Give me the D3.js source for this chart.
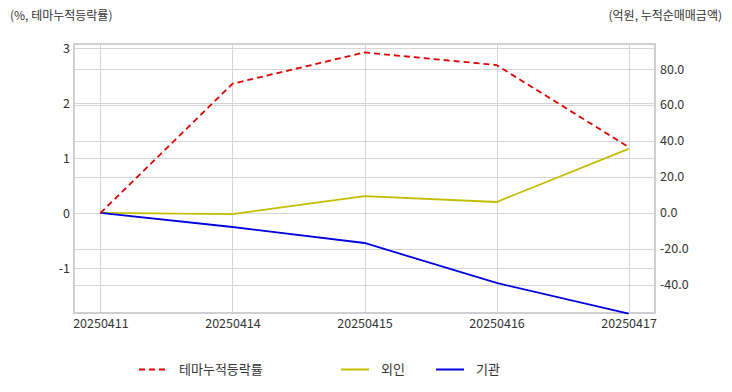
<!DOCTYPE html>
<html><head><meta charset="utf-8">
<script src="https://cdn.jsdelivr.net/npm/d3@7"></script>
<style>
body{margin:0;background:#fff;}
text{font-family:"Noto Sans CJK KR","Noto Sans",sans-serif;fill:#333;}
</style></head>
<body><svg id="c" width="732" height="392"></svg>
<script>
const dates = ["20250411","20250414","20250415","20250416","20250417"];
const themeRate = [0, 2.35, 2.92, 2.69, 1.2];
const foreign = [0, -0.6, 9.4, 6.1, 35.6];
const institution = [0, -7.8, -16.7, -38.9, -56.0];
const leftTicks = [-1, 0, 1, 2, 3];
const rightTicks = [-40, -20, 0, 20, 40, 60, 80];
const seriesNames = ["테마누적등락률", "외인", "기관"];

const svg = d3.select("#c");
const L = 74, R = 655, T = 44, B = 313;
const x = d3.scalePoint().domain(dates).range([L, R]).padding(0.2);
const yL = d3.scaleLinear().domain([-1.818, 3.073]).range([B, T]);
const yR = d3.scaleLinear().domain([-55.6, 93.9]).range([B, T]);

const grid = svg.append("g").attr("stroke", "#d4d4d4").attr("stroke-width", 1);
leftTicks.forEach(t => grid.append("line").attr("x1", L).attr("x2", R).attr("y1", Math.round(yL(t)) + 0.5).attr("y2", Math.round(yL(t)) + 0.5));
rightTicks.forEach(t => grid.append("line").attr("x1", L).attr("x2", R).attr("y1", Math.round(yR(t)) + 0.5).attr("y2", Math.round(yR(t)) + 0.5));
dates.forEach(d => grid.append("line").attr("y1", T).attr("y2", B).attr("x1", Math.round(x(d)) + 0.5).attr("x2", Math.round(x(d)) + 0.5));
svg.append("rect").attr("x", L).attr("y", T).attr("width", R - L).attr("height", B - T)
  .attr("fill", "none").attr("stroke", "#cfcfcf").attr("stroke-width", 2);

const fmtL = d => (d < 0 ? "-" : "") + Math.abs(d).toFixed(0);
const fmtR = d => (d < 0 ? "-" : "") + Math.abs(d).toFixed(1);
const axL = svg.append("g").attr("transform", `translate(${L - 4},0)`)
  .call(d3.axisLeft(yL).tickValues(leftTicks).tickSize(0).tickPadding(0).tickFormat(fmtL));
const axR = svg.append("g").attr("transform", `translate(${R + 5},0)`)
  .call(d3.axisRight(yR).tickValues(rightTicks).tickSize(0).tickPadding(0).tickFormat(fmtR));
const axB = svg.append("g").attr("transform", `translate(0,${B + 4})`)
  .call(d3.axisBottom(x).tickSize(0).tickPadding(0));
[axL, axR, axB].forEach(a => { a.select(".domain").remove(); a.selectAll("text").attr("font-size", 12.5).attr("fill", "#333").style("font-family", '"Noto Sans CJK KR","Noto Sans",sans-serif'); });
axB.selectAll("text").attr("dy", "0.9em");

svg.append("text").attr("x", 10).attr("y", 20).attr("font-size", 12).text("(%, 테마누적등락률)");
svg.append("text").attr("x", 722).attr("y", 20).attr("font-size", 12).attr("text-anchor", "end").text("(억원, 누적순매매금액)");

const lineL = d3.line().x((d, i) => x(dates[i])).y(d => yL(d));
const lineR = d3.line().x((d, i) => x(dates[i])).y(d => yR(d));
svg.append("path").attr("d", lineR(foreign)).attr("fill", "none").attr("stroke", "#c4bc00").attr("stroke-width", 1.8);
svg.append("path").attr("d", lineR(institution)).attr("fill", "none").attr("stroke", "#0000e0").attr("stroke-width", 1.8);
svg.append("path").attr("d", lineL(themeRate)).attr("fill", "none").attr("stroke", "#e00000").attr("stroke-width", 1.8).attr("stroke-dasharray", "6,4");

const leg = [
  {name: seriesNames[0], color: "#e00000", dash: "6,4", x: 139},
  {name: seriesNames[1], color: "#c4bc00", dash: null, x: 341},
  {name: seriesNames[2], color: "#0000e0", dash: null, x: 436}
];
leg.forEach(l => {
  svg.append("line").attr("x1", l.x).attr("x2", l.x + 28).attr("y1", 369.5).attr("y2", 369.5)
    .attr("stroke", l.color).attr("stroke-width", 2).attr("stroke-dasharray", l.dash);
  svg.append("text").attr("x", l.x + 40).attr("y", 374).attr("font-size", 13).text(l.name);
});
</script></body></html>
